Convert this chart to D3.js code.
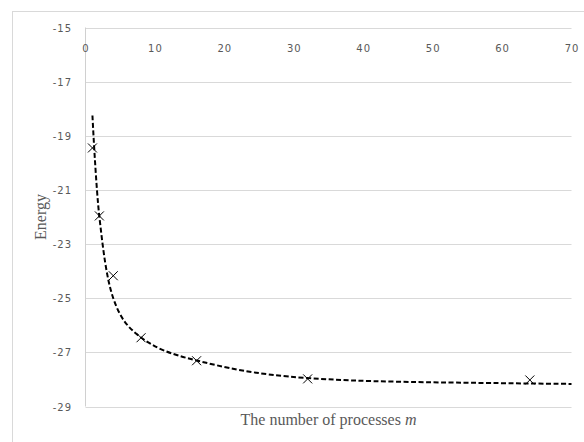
<!DOCTYPE html>
<html>
<head>
<meta charset="utf-8">
<script src="https://cdnjs.cloudflare.com/ajax/libs/d3/7.8.5/d3.min.js"></script>
<style>
body { margin: 0; background: #fff; }
.tick-label { font-family: "DejaVu Sans", sans-serif; font-size: 10px; letter-spacing: 1px; fill: #595959; }
.title { font-family: "Liberation Serif", "Times New Roman", serif; font-size: 16px; fill: #595959; }
</style>
</head>
<body>
<div id="chart"></div>
<script>

// measured points (x markers)
var processes = [1, 2, 4, 8, 16, 32, 64];
var energy = [-19.45, -21.96, -24.17, -26.46, -27.31, -27.98, -28.02];

// dashed curve (last point lies past the axis end)
var curveM = [1, 2, 4, 8, 16, 32, 64, 128];
var curveE = [-18.25, -22.0, -25.0, -26.45, -27.3, -27.95, -28.15, -28.25];

var xTicks = [0, 10, 20, 30, 40, 50, 60, 70];
var yTicks = [-15, -17, -19, -21, -23, -25, -27, -29];

var W = 584, H = 442;
var plotL = 85.5, plotR = 571.5, plotT = 27.5, plotB = 406.5;

var svg = d3.select("#chart").append("svg")
  .attr("width", W)
  .attr("height", H);

// outer frame, runs off the right and bottom edges
svg.append("rect")
  .attr("x", 12.5).attr("y", 11.5)
  .attr("width", 700).attr("height", 600)
  .attr("fill", "none")
  .attr("stroke", "#d9d9d9");

var x = d3.scaleLinear().domain([0, 70]).range([plotL, plotR]);
var y = d3.scaleLinear().domain([-29, -15]).range([plotB, plotT]);

// horizontal gridlines
svg.append("g").selectAll("line")
  .data(yTicks)
  .join("line")
  .attr("x1", plotL).attr("x2", plotR)
  .attr("y1", function(d){ return Math.round(y(d)) + 0.5; })
  .attr("y2", function(d){ return Math.round(y(d)) + 0.5; })
  .attr("stroke", "#d9d9d9");

// vertical axis line
svg.append("line")
  .attr("x1", plotL).attr("x2", plotL)
  .attr("y1", y(-15)).attr("y2", y(-29))
  .attr("stroke", "#d0d0d0");

// y tick labels
svg.append("g").selectAll("text")
  .data(yTicks)
  .join("text")
  .attr("class", "tick-label")
  .attr("x", 72)
  .attr("y", function(d){ return y(d) + 4; })
  .attr("text-anchor", "end")
  .text(function(d){ return d; });

// x tick labels sit just under the top axis line
svg.append("g").selectAll("text")
  .data(xTicks)
  .join("text")
  .attr("class", "tick-label")
  .attr("x", function(d){ return x(d) + 0.5; })
  .attr("y", 51.5)
  .attr("text-anchor", "middle")
  .text(function(d){ return d; });

// dashed curve
svg.append("clipPath").attr("id", "plot-clip")
  .append("rect")
  .attr("x", plotL).attr("y", plotT)
  .attr("width", plotR - plotL).attr("height", plotB - plotT);

var line = d3.line()
  .x(function(d, i){ return x(curveM[i]); })
  .y(function(d){ return y(d); })
  .curve(d3.curveCardinal.tension(0));

svg.append("path")
  .datum(curveE)
  .attr("clip-path", "url(#plot-clip)")
  .attr("d", line)
  .attr("fill", "none")
  .attr("stroke", "#000")
  .attr("stroke-width", 2)
  .attr("stroke-dasharray", "5,2.5");

// x markers
var s = 4.5;
svg.append("g").selectAll("path")
  .data(energy)
  .join("path")
  .attr("d", function(d, i){
    var cx = x(processes[i]), cy = y(d);
    return "M" + (cx - s) + "," + (cy - s) + "L" + (cx + s) + "," + (cy + s) +
           "M" + (cx - s) + "," + (cy + s) + "L" + (cx + s) + "," + (cy - s);
  })
  .attr("stroke", "#000")
  .attr("stroke-width", 1);

// axis titles
svg.append("text")
  .attr("class", "title")
  .attr("transform", "translate(46," + ((plotT + plotB) / 2) + ") rotate(-90)")
  .attr("text-anchor", "middle")
  .text("Energy");

var xt = svg.append("text")
  .attr("class", "title")
  .attr("x", (plotL + plotR) / 2)
  .attr("y", 425)
  .attr("text-anchor", "middle");
xt.append("tspan").text("The number of processes ");
xt.append("tspan").attr("font-style", "italic").text("m");

</script>
</body>
</html>
